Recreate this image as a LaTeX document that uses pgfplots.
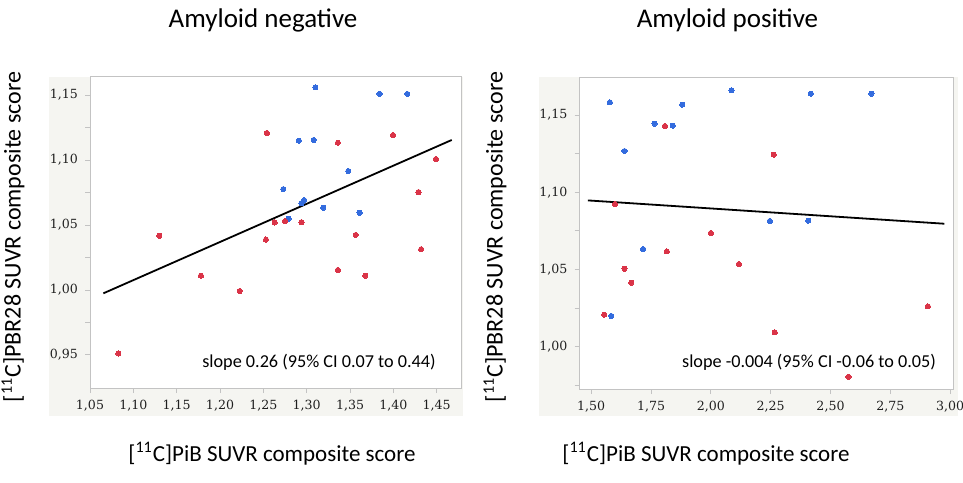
\documentclass[border=0pt]{standalone}
\usepackage{fontspec}
\setmainfont{Carlito}
\newfontfamily\tickfont{DejaVu Serif}
\usepackage{pgfplots}
\pgfplotsset{compat=1.18}
\definecolor{ptblue}{RGB}{52,108,222}
\definecolor{ptred}{RGB}{218,52,72}
\definecolor{panel}{RGB}{245,245,241}
\definecolor{framec}{RGB}{195,195,195}
\pgfplotsset{
  myax/.style={
    scale only axis, anchor=south west,
    axis line style={draw=framec, line width=0.5pt},
    tick align=outside, major tick length=2.5pt, minor tick length=2.5pt,
    every tick/.style={draw=framec, line width=0.4pt},
    xtick pos=bottom, ytick pos=left,
    tick label style={font=\tickfont\fontsize{6.3}{7.5}\selectfont, text=black!88},
    axis background/.style={fill=white},
    /pgf/number format/assume math mode=true,
    /pgf/number format/fixed,
    /pgf/number format/fixed zerofill,
    /pgf/number format/precision=2,
    /pgf/number format/use comma,
    scaled ticks=false,
  },
  bl/.style={only marks, mark=*, mark size=1.3pt, color=ptblue, mark options={draw=ptblue, fill=ptblue, line width=0pt}},
  rd/.style={only marks, mark=*, mark size=1.3pt, color=ptred, mark options={draw=ptred, fill=ptred, line width=0pt}},
}
\begin{document}
\begin{tikzpicture}
\path[use as bounding box] (0,0) rectangle (481.5pt,241pt);
\fill[panel] (24.5pt,33pt) rectangle (231.5pt,202.5pt);
\fill[panel] (269.5pt,33pt) rectangle (479pt,202.5pt);
% Left axis
\begin{axis}[myax, at={(45pt,47pt)}, width=185.5pt, height=155.5pt,
  xmin=1.05, xmax=1.478, ymin=0.9245, ymax=1.164,
  xtick={1.05,1.10,1.15,1.20,1.25,1.30,1.35,1.40,1.45},
  ytick={0.95,1.00,1.05,1.10,1.15},
  minor ytick={0.975,1.025,1.075,1.125}]
\addplot[bl] coordinates {
(1.310,1.156) (1.384,1.151) (1.416,1.151) (1.291,1.115) (1.308,1.1155)
(1.348,1.0916) (1.273,1.0777) (1.294,1.0669) (1.297,1.0692) (1.319,1.0633)
(1.361,1.0594) (1.279,1.0548)};
\addplot[rd] coordinates {
(1.254,1.1209) (1.336,1.1134) (1.3996,1.1193) (1.449,1.1008) (1.429,1.0754)
(1.263,1.052) (1.275,1.053) (1.294,1.0522) (1.253,1.0388) (1.130,1.0417)
(1.178,1.011) (1.2227,0.9992) (1.3565,1.0424) (1.432,1.0314) (1.336,1.0154)
(1.3677,1.011) (1.0827,0.9511)};
\addplot[black, line width=0.9pt] coordinates {(1.0654,0.9974) (1.4673,1.1155)};
\end{axis}
% Right axis
\begin{axis}[myax, at={(289.75pt,46.5pt)}, width=187pt, height=156pt,
  xmin=1.451, xmax=3.014, ymin=0.9726, ymax=1.1746,
  xtick={1.50,1.75,2.00,2.25,2.50,2.75,3.00},
  ytick={1.00,1.05,1.10,1.15},
  minor ytick={0.975,1.025,1.075,1.125}]
\addplot[bl] coordinates {
(1.578,1.1582) (1.639,1.1267) (1.7646,1.1444) (1.841,1.1431) (1.880,1.1567)
(2.086,1.166) (2.418,1.1638) (2.671,1.1638) (2.2465,1.0814) (2.407,1.0816)
(1.717,1.0632) (1.5836,1.0199)};
\addplot[rd] coordinates {
(1.808,1.1429) (2.263,1.1243) (1.599,1.0924) (2.0,1.0736) (1.816,1.0617)
(2.117,1.0535) (1.639,1.0505) (1.667,1.0414) (1.554,1.0207) (2.907,1.0261)
(2.267,1.0093) (2.575,0.9804)};
\addplot[black, line width=0.9pt] coordinates {(1.486,1.0947) (2.976,1.0796)};
\end{axis}
% Texts
\node[anchor=base, font=\fontsize{13.5}{16}\selectfont] at (131.5pt,227pt) {Amyloid negative};
\node[anchor=base, font=\fontsize{13.5}{16}\selectfont] at (363.75pt,227pt) {Amyloid positive};
\node[anchor=base, font=\fontsize{11.5}{14}\selectfont] at (136pt,10.5pt) {[\textsuperscript{11}C]PiB SUVR composite score};
\node[anchor=base, font=\fontsize{11.5}{14}\selectfont] at (353pt,10.5pt) {[\textsuperscript{11}C]PiB SUVR composite score};
\node[rotate=90, font=\fontsize{12}{14}\selectfont] at (6.5pt,122.5pt) {[\textsuperscript{11}C]PBR28 SUVR composite score};
\node[rotate=90, font=\fontsize{12}{14}\selectfont] at (247.5pt,122.5pt) {[\textsuperscript{11}C]PBR28 SUVR composite score};
\node[font=\fontsize{9.1}{11}\selectfont] at (159.5pt,60pt) {slope 0.26 (95\% CI 0.07 to 0.44)};
\node[font=\fontsize{9.1}{11}\selectfont] at (404.5pt,60pt) {slope -0.004 (95\% CI -0.06 to 0.05)};
\end{tikzpicture}
\end{document}
